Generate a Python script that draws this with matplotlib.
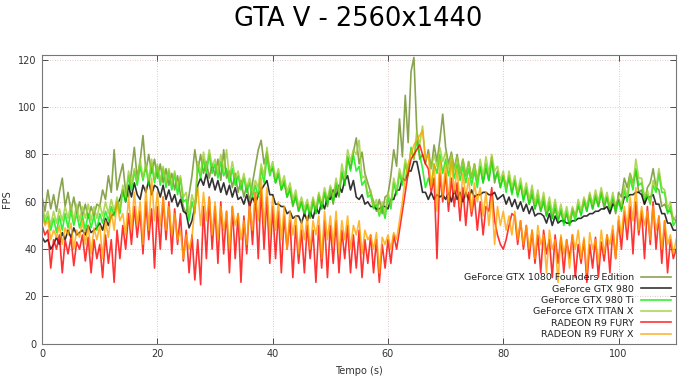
"""
GTA V 2560x1440 - FPS over time, six cards.
"""
import numpy as np
import matplotlib
matplotlib.use("Agg")
import matplotlib.pyplot as plt

# samples every 0.5 s
step = 0.5

gtx1080 = [62, 56, 65, 57, 63, 56, 64, 70, 58, 64, 56, 62, 55, 60, 54, 59, 53, 58, 54, 59,
           58, 65, 61, 71, 64, 82, 65, 71, 76, 64, 62, 73, 83, 70, 77, 88, 73, 80, 72, 78,
           70, 76, 68, 74, 67, 72, 65, 71, 63, 58, 55, 63, 71, 82, 73, 80, 72, 77, 70, 76,
           71, 78, 69, 82, 70, 73, 66, 72, 64, 69, 62, 67, 60, 68, 75, 82, 86, 76, 81, 73,
           74, 68, 72, 65, 68, 62, 65, 58, 62, 56, 60, 54, 59, 53, 61, 55, 63, 57, 64, 58,
           65, 59, 67, 62, 72, 67, 79, 74, 81, 87, 76, 81, 72, 68, 64, 60, 56, 61, 55, 62,
           63, 71, 82, 75, 95, 79, 105, 85, 115, 121, 90, 78, 80, 76, 82, 74, 84, 77, 86, 97,
           83, 76, 81, 74, 80, 72, 78, 71, 77, 70, 76, 69, 75, 68, 74, 69, 79, 68, 73, 66,
           71, 66, 70, 64, 69, 63, 67, 61, 65, 59, 63, 57, 61, 56, 60, 54, 58, 53, 57, 52,
           56, 51, 55, 50, 57, 54, 58, 55, 61, 56, 63, 57, 62, 58, 64, 57, 62, 56, 61, 55,
           64, 62, 70, 66, 72, 68, 73, 64, 65, 59, 66, 68, 74, 66, 65, 58, 59, 56, 56, 53, 52]

gtx980 = [45, 43, 44, 40, 42, 45, 42, 47, 44, 48, 45, 49, 46, 47, 48, 46, 50, 47, 48, 49,
          51, 48, 53, 50, 54, 55, 59, 61, 65, 60, 67, 62, 68, 63, 61, 67, 64, 69, 63, 67,
          66, 62, 67, 61, 65, 60, 63, 58, 61, 56, 55, 49, 52, 58, 67, 70, 67, 72, 66, 70,
          65, 69, 64, 68, 63, 67, 62, 66, 61, 62, 59, 63, 58, 62, 59, 63, 65, 67, 69, 63,
          63, 59, 59, 58, 58, 55, 56, 53, 54, 54, 51, 55, 52, 56, 53, 58, 55, 60, 57, 62,
          61, 65, 62, 67, 64, 69, 71, 65, 69, 62, 61, 63, 59, 60, 58, 58, 57, 57, 58, 58,
          57, 61, 61, 65, 65, 70, 69, 73, 73, 77, 77, 71, 64, 64, 61, 64, 61, 63, 62, 63,
          61, 64, 60, 65, 61, 64, 60, 64, 61, 65, 62, 63, 63, 64, 64, 63, 63, 64, 61, 62,
          63, 59, 62, 58, 61, 57, 60, 56, 59, 55, 58, 54, 55, 55, 54, 51, 55, 50, 54, 51,
          52, 52, 51, 51, 52, 52, 53, 53, 54, 54, 55, 55, 56, 56, 57, 57, 58, 55, 59, 58,
          61, 57, 62, 62, 63, 63, 64, 64, 63, 59, 62, 62, 63, 59, 59, 55, 55, 51, 51, 48, 48]

gtx980ti = [57, 51, 54, 48, 53, 47, 54, 48, 55, 49, 56, 50, 55, 49, 54, 48, 55, 49, 54, 48,
            55, 51, 56, 52, 58, 54, 60, 55, 65, 60, 71, 65, 73, 67, 75, 69, 75, 67, 76, 68,
            75, 67, 74, 66, 73, 65, 72, 63, 70, 60, 61, 52, 60, 55, 75, 70, 78, 72, 80, 72,
            76, 70, 77, 71, 74, 68, 74, 67, 71, 65, 70, 64, 68, 62, 67, 62, 74, 68, 79, 71,
            75, 68, 72, 65, 69, 62, 66, 59, 63, 56, 60, 55, 59, 54, 60, 55, 62, 57, 64, 59,
            66, 60, 68, 63, 73, 67, 79, 73, 80, 73, 75, 67, 69, 62, 63, 57, 59, 54, 58, 53,
            62, 57, 68, 63, 72, 67, 76, 71, 83, 78, 86, 80, 74, 66, 70, 66, 76, 72, 80, 72,
            78, 71, 77, 70, 76, 69, 75, 68, 74, 67, 73, 66, 75, 68, 76, 69, 77, 70, 72, 66,
            71, 64, 71, 63, 69, 62, 68, 60, 66, 59, 65, 57, 63, 56, 62, 54, 60, 53, 59, 52,
            57, 50, 56, 50, 56, 52, 59, 54, 60, 56, 62, 57, 63, 58, 64, 59, 62, 57, 62, 56,
            60, 56, 65, 60, 70, 65, 74, 67, 68, 61, 63, 59, 67, 64, 72, 64, 64, 55, 58, 50, 52]

titanx = [59, 53, 56, 50, 56, 51, 57, 52, 58, 53, 59, 52, 59, 52, 58, 53, 59, 52, 58, 53,
          59, 54, 60, 55, 61, 56, 62, 57, 67, 62, 73, 67, 74, 69, 78, 70, 76, 69, 78, 70,
          76, 69, 75, 68, 74, 67, 73, 66, 71, 62, 64, 55, 63, 58, 77, 72, 81, 74, 82, 75,
          78, 72, 80, 73, 82, 70, 77, 70, 73, 67, 72, 66, 70, 64, 69, 66, 76, 71, 83, 73,
          77, 70, 74, 67, 71, 64, 68, 61, 65, 58, 62, 57, 61, 56, 62, 57, 64, 59, 66, 61,
          67, 62, 70, 64, 76, 70, 82, 77, 82, 80, 86, 70, 71, 63, 65, 58, 61, 55, 60, 55,
          64, 59, 70, 65, 74, 69, 78, 73, 82, 78, 90, 84, 92, 78, 80, 74, 80, 75, 83, 77,
          81, 74, 80, 73, 79, 72, 78, 71, 77, 70, 76, 69, 78, 71, 79, 72, 80, 73, 75, 69,
          73, 66, 73, 66, 71, 64, 70, 63, 68, 61, 67, 59, 65, 58, 64, 56, 62, 55, 61, 54,
          59, 53, 58, 52, 58, 54, 61, 56, 62, 58, 64, 59, 65, 60, 66, 60, 64, 58, 64, 58,
          62, 58, 67, 62, 72, 67, 78, 70, 70, 62, 65, 60, 69, 66, 74, 66, 65, 57, 60, 52, 54]

fury = [50, 46, 48, 32, 44, 40, 46, 30, 44, 38, 45, 33, 43, 40, 46, 35, 45, 30, 44, 36,
        42, 28, 46, 34, 44, 26, 48, 36, 50, 40, 55, 42, 58, 45, 56, 38, 60, 44, 57, 32,
        58, 40, 62, 44, 60, 38, 57, 42, 55, 35, 48, 30, 46, 27, 44, 25, 58, 36, 62, 40,
        58, 34, 60, 38, 56, 30, 58, 36, 55, 26, 54, 38, 60, 42, 64, 36, 66, 40, 62, 34,
        58, 36, 56, 30, 54, 40, 52, 28, 50, 34, 48, 30, 50, 36, 48, 26, 50, 32, 52, 28,
        50, 34, 52, 30, 48, 36, 50, 30, 46, 32, 48, 28, 44, 34, 46, 30, 44, 26, 42, 32,
        44, 34, 46, 40, 48, 56, 64, 72, 78, 80, 82, 84, 80, 76, 74, 64, 70, 36, 72, 60,
        72, 56, 70, 58, 68, 52, 66, 50, 64, 54, 62, 48, 60, 46, 58, 56, 66, 52, 46, 42,
        40, 44, 50, 55, 54, 42, 52, 40, 50, 36, 48, 34, 46, 30, 48, 38, 44, 28, 46, 34,
        45, 30, 44, 36, 46, 28, 42, 34, 44, 26, 42, 32, 45, 28, 43, 35, 46, 30, 48, 36,
        52, 40, 56, 44, 58, 38, 60, 46, 56, 36, 58, 42, 60, 40, 54, 34, 52, 30, 44, 36, 40]

furyx = [54, 50, 52, 44, 48, 45, 50, 42, 49, 46, 51, 40, 48, 45, 52, 42, 50, 38, 49, 44,
         50, 36, 52, 45, 56, 48, 60, 52, 55, 46, 62, 48, 64, 50, 60, 42, 66, 48, 70, 52,
         64, 50, 62, 48, 58, 46, 55, 44, 48, 36, 46, 40, 45, 58, 66, 50, 64, 52, 62, 46,
         60, 44, 58, 48, 56, 40, 58, 50, 55, 44, 52, 42, 58, 48, 64, 52, 70, 50, 66, 46,
         62, 48, 60, 44, 58, 40, 56, 46, 54, 38, 52, 44, 54, 40, 52, 46, 54, 36, 56, 44,
         54, 42, 56, 38, 52, 44, 54, 40, 50, 46, 52, 38, 48, 44, 46, 40, 47, 30, 45, 42,
         46, 40, 47, 44, 52, 60, 70, 76, 80, 84, 86, 88, 90, 78, 80, 66, 76, 56, 78, 62,
         76, 60, 78, 64, 74, 58, 72, 62, 70, 56, 68, 60, 66, 54, 64, 50, 62, 42, 58, 50,
         56, 48, 54, 46, 56, 44, 52, 42, 50, 40, 48, 36, 50, 42, 46, 30, 48, 40, 44, 26,
         46, 38, 44, 32, 46, 40, 48, 36, 45, 30, 47, 40, 44, 34, 48, 38, 46, 42, 50, 36,
         54, 46, 58, 50, 62, 52, 66, 48, 58, 50, 56, 44, 58, 48, 54, 40, 52, 42, 46, 38, 44]

labels = ["GeForce GTX 1080 Founders Edition", "GeForce GTX 980", "GeForce GTX 980 Ti",
          "GeForce GTX TITAN X", "RADEON R9 FURY", "RADEON R9 FURY X"]
colors = ["#6b8e23", "#000000", "#00ee00", "#9acd32", "#ff0000", "#ffa500"]
series = [gtx1080, gtx980, gtx980ti, titanx, fury, furyx]

fig = plt.figure(figsize=(6.9, 3.77), dpi=100)
ax = fig.add_axes([0.061, 0.088, 0.919, 0.766])

for vals, lab, col in zip(series, labels, colors):
    t = np.arange(len(vals)) * step
    ax.plot(t, vals, color=col, lw=1.2, alpha=0.8, label=lab)

ax.set_xlim(0, 110)
ax.set_ylim(0, 122)
ax.set_xticks(range(0, 101, 20))
ax.set_yticks(range(0, 121, 20))
ax.tick_params(direction="in", top=True, right=True, labelsize=7, colors="#333333",
               length=4, width=0.6, pad=4)
for s in ax.spines.values():
    s.set_color("#777777")
    s.set_linewidth(0.8)
ax.grid(True, linestyle=(0, (1, 2)), color="#d9b3b3", linewidth=0.6)
ax.set_axisbelow(True)

ax.set_xlabel("Tempo (s)", fontsize=7, color="#333333", labelpad=5)
ax.set_ylabel("FPS", fontsize=7, color="#333333", labelpad=4)

fig.text(0.519, 0.95, "GTA V - 2560x1440", ha="center", va="center", fontsize=18.5)

leg = ax.legend(loc="lower right", frameon=False, markerfirst=False, fontsize=6.8,
                handlelength=3.2, handletextpad=0.8, labelspacing=0.25,
                borderaxespad=0.3, borderpad=0.2)
for txt in leg.get_texts():
    txt.set_ha("right")
    txt.set_color("#222222")
leg._legend_box.align = "right"

fig.savefig("out.png", dpi=100)
